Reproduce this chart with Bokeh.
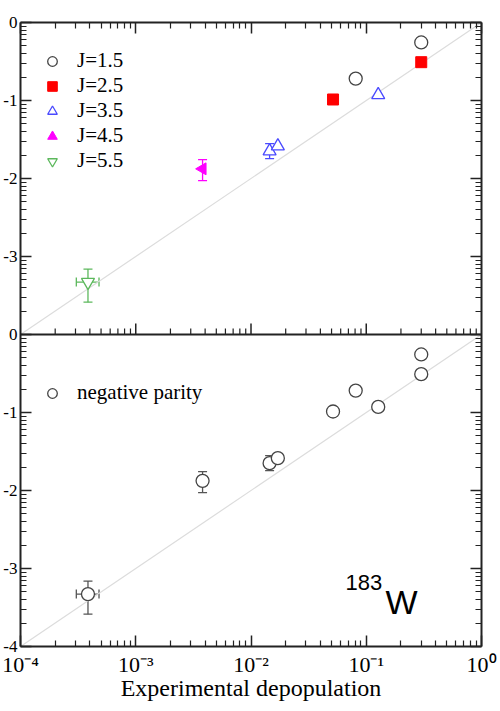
import math
from bokeh.plotting import figure
from bokeh.models import (Range1d, LogScale, LogAxis, FixedTicker, CustomJSTickFormatter,
                          Span, Whisker, TeeHead, ColumnDataSource, Legend, LegendItem, Label)
from bokeh.embed import file_html
from bokeh.resources import INLINE

# ---------------- data ----------------
j15_x = [0.300, 0.081]
j15_y = [0.555, 0.191]
j25_x = [0.300, 0.0515]
j25_y = [0.310, 0.103]
j35_x = [0.127, 0.0145, 0.0171]
j35_y = [0.118, 0.0224, 0.0260]
j35_err_x = [0.0145]
j35_err_lo = [0.0180]
j35_err_hi = [0.0280]
j45_x = [0.0038]
j45_y = [0.0133]
j45_ylo = [0.0094]
j45_yhi = [0.0175]
j55_x = [0.000385]
j55_y = [0.00047]
j55_ylo = [0.00026]
j55_yhi = [0.00069]
j55_xlo = [0.000305]
j55_xhi = [0.00048]

legend_labels = ["J=1.5", "J=2.5", "J=3.5", "J=4.5", "J=5.5"]
neg_label = "negative parity"
diag = [1e-4, 1.0]

x_decades = [-4, -3, -2, -1, 0]
x_tick_labels = ["10\u207b\u2074", "10\u207b\u00b3", "10\u207b\u00b2", "10\u207b\u00b9", "10\u2070"]
y_labels_top = ["0", "-1", "-2", "-3"]
y_labels_bot = ["0", "-1", "-2", "-3", "-4"]
x_title = "Experimental depopulation"

# ---------------- figure ----------------
W, H = 500, 711
BL, BR, BT, BB = 20, 19, 22, 65

p = figure(width=W, height=H, x_axis_type="log", y_axis_type="log",
           x_range=Range1d(1e-4, 1.0), y_range=Range1d(1e-8, 1.0),
           output_backend="svg", toolbar_location=None,
           min_border_left=BL, min_border_right=BR, min_border_top=BT, min_border_bottom=BB)
p.extra_y_ranges = {"bot": Range1d(1e-4, 1e4)}
p.extra_y_scales = {"bot": LogScale()}
p.grid.visible = False
p.outline_line_color = None
p.background_fill_color = "white"

frame_h = H - BT - BB
px_per_dec = frame_h / 8.0

x_major = [10.0 ** d for d in x_decades]
x_minor = [k * 10.0 ** d for d in x_decades[:-1] for k in range(2, 10)]
y_major = [10.0 ** e for e in range(-8, 1)]
y_minor = [k * 10.0 ** e for e in range(-8, 0) for k in range(2, 10)]

AX = "#222222"


def style_axis(ax, major, minor):
    ax.ticker = FixedTicker(ticks=major, minor_ticks=minor)
    ax.major_tick_in = 11
    ax.major_tick_out = 0
    ax.minor_tick_in = 6
    ax.minor_tick_out = 0
    ax.axis_line_width = 2
    ax.axis_line_color = AX
    ax.major_tick_line_color = AX
    ax.major_tick_line_width = 1.5
    ax.minor_tick_line_color = AX
    ax.minor_tick_line_width = 1.2


def blank(ax):
    ax.formatter = CustomJSTickFormatter(code="return '';")
    ax.major_label_text_font_size = "1px"
    ax.major_label_standoff = 0


xb = p.xaxis[0]
style_axis(xb, x_major, x_minor)
xb.formatter = CustomJSTickFormatter(args=dict(labels=x_tick_labels),
                                     code="const e = Math.round(Math.log10(tick)); return labels[e + 4];")
xb.major_label_text_font = "Liberation Serif"
xb.major_label_text_font_size = "22px"
xb.major_label_text_color = "black"
xb.major_label_standoff = 5
xb.axis_label = x_title
xb.axis_label_text_font = "Liberation Serif"
xb.axis_label_text_font_size = "24px"
xb.axis_label_text_font_style = "normal"
xb.axis_label_text_color = "black"
xb.axis_label_standoff = -5

yl = p.yaxis[0]
style_axis(yl, y_major, y_minor)
yl.formatter = CustomJSTickFormatter(args=dict(top=y_labels_top, bot=y_labels_bot),
                                     code="""const e = Math.round(Math.log10(tick));
if (e >= -3) { return top[-e]; }
return bot[-(e + 4)];""")
yl.major_label_text_font = "Liberation Serif"
yl.major_label_text_font_size = "17px"
yl.major_label_text_color = "black"
yl.major_label_text_baseline = "alphabetic"
yl.major_label_standoff = 3

xt = LogAxis()
style_axis(xt, x_major, x_minor)
blank(xt)
p.add_layout(xt, "above")

yr = LogAxis()
style_axis(yr, y_major, y_minor)
blank(yr)
p.add_layout(yr, "right")

# boundary between the two panels
p.add_layout(Span(location=1e-4, dimension="width", line_color=AX, line_width=2))
up_minor = 10 ** (6 / px_per_dec)
up_major = 10 ** (11 / px_per_dec)
p.segment(x0=x_minor, y0=[1e-4] * len(x_minor), x1=x_minor, y1=[1e-4 * up_minor] * len(x_minor),
          line_color=AX, line_width=1.2)
inner_major = x_major[1:-1]
p.segment(x0=inner_major, y0=[1e-4] * len(inner_major), x1=inner_major,
          y1=[1e-4 * up_major] * len(inner_major), line_color=AX, line_width=1.5)

# diagonals
p.line(diag, diag, line_color="#dcdcdc", line_width=1.2)
p.line(diag, diag, line_color="#dcdcdc", line_width=1.2, y_range_name="bot")

# ---------------- top panel ----------------
GREEN = "#5cb85c"
BLUE = "#4a4aff"
MAG = "#ff00ff"
RED = "#ff0000"
GRAY = "#444444"


def whiskers(xs, lo, hi, color, rng="default", dim="height"):
    src = ColumnDataSource(dict(b=xs, lo=lo, hi=hi))
    w = Whisker(base="b", lower="lo", upper="hi", source=src, dimension=dim,
                line_color=color, line_width=1.3, y_range_name=rng,
                lower_head=TeeHead(size=9, line_color=color, line_width=1.3),
                upper_head=TeeHead(size=9, line_color=color, line_width=1.3))
    p.add_layout(w)


whiskers(j35_err_x, j35_err_lo, j35_err_hi, BLUE)
whiskers(j45_x, j45_ylo, j45_yhi, MAG)
whiskers(j55_x, j55_ylo, j55_yhi, GREEN)
whiskers(j55_y, j55_xlo, j55_xhi, GREEN, dim="width")

r15 = p.scatter(j15_x, j15_y, marker="circle", size=13, fill_color="white", line_color=GRAY, line_width=1.3)
r25 = p.scatter(j25_x, j25_y, marker="square", size=11, fill_color=RED, line_color=RED)
r35 = p.scatter(j35_x, j35_y, marker="triangle", size=13, fill_color="white", line_color=BLUE, line_width=1.3)
r45 = p.scatter(j45_x, j45_y, marker="triangle", size=12, angle=math.pi / 2,
                fill_color=MAG, line_color=MAG)
r55 = p.scatter(j55_x, j55_y, marker="inverted_triangle", size=13, fill_color="white",
                line_color=GREEN, line_width=1.3)

# ---------------- bottom panel ----------------
neg_x = j15_x + j25_x + j35_x + j45_x + j55_x
neg_y = j15_y + j25_y + j35_y + j45_y + j55_y
whiskers(j35_err_x, j35_err_lo, j35_err_hi, "#555555", rng="bot")
whiskers(j45_x, j45_ylo, j45_yhi, "#555555", rng="bot")
whiskers(j55_x, j55_ylo, j55_yhi, "#555555", rng="bot")
whiskers(j55_y, j55_xlo, j55_xhi, "#555555", rng="bot", dim="width")
rneg = p.scatter(neg_x, neg_y, marker="circle", size=13, fill_color="white", line_color=GRAY,
                 line_width=1.3, y_range_name="bot")

# ---------------- legends ----------------
def make_legend(items, loc):
    lg = Legend(items=items, location=loc, label_text_font="Liberation Serif",
                label_text_font_size="21px", label_text_color="black",
                border_line_color=None, background_fill_alpha=0, padding=0, margin=0,
                spacing=0, glyph_width=24, glyph_height=24, label_height=24, label_standoff=13)
    p.add_layout(lg)


make_legend([LegendItem(label=l, renderers=[r]) for l, r in
             zip(legend_labels, [r15, r25, r35, r45, r55])], (20, 473))
make_legend([LegendItem(label=neg_label, renderers=[rneg])], (20, 241))

# isotope label
p.add_layout(Label(x=0.066, y=6.67e-4, y_range_name="bot", text="183", text_font="Liberation Sans",
                   text_font_size="22px", text_color="black", text_baseline="alphabetic"))
p.add_layout(Label(x=0.147, y=3.7e-4, y_range_name="bot", text="W", text_font="Liberation Sans",
                   text_font_size="34px", text_color="black", text_baseline="alphabetic"))

open("out.html", "w").write(file_html(p, INLINE))
